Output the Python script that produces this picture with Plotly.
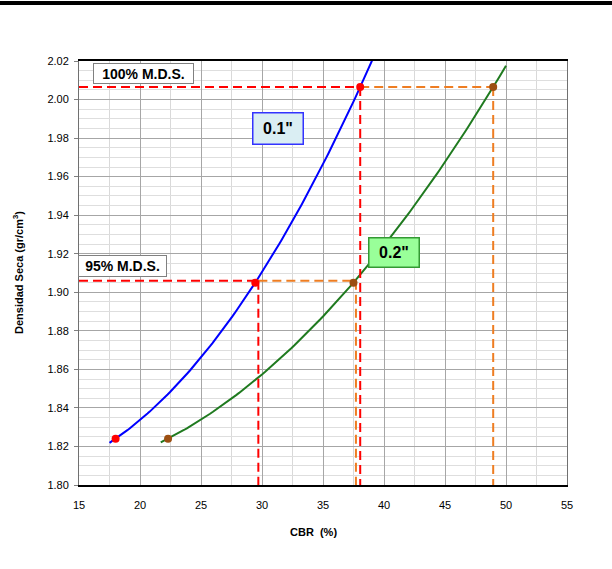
import numpy as np
import plotly.graph_objects as go

# Specimen points: CBR (%) vs dry density (g/cm3) for each penetration
cbr_01 = [18.0, 29.45, 38.05]
dens_01 = [1.824, 1.905, 2.0065]
cbr_02 = [22.3, 37.5, 48.95]
dens_02 = [1.824, 1.905, 2.0065]

# Maximum dry density levels
mds_100 = 2.0065
mds_95 = 1.906

# CBR read at each density level
cbr_100_01, cbr_100_02 = 38.05, 48.95
cbr_95_01, cbr_95_02 = 29.7, 37.7

# Trendline extents
span_01 = (17.5, 39.3)
span_02 = (21.7, 50.0)

x_ticks = [15, 20, 25, 30, 35, 40, 45, 50, 55]
y_ticks = [1.80, 1.82, 1.84, 1.86, 1.88, 1.90, 1.92, 1.94, 1.96, 1.98, 2.00, 2.02]

RED = "#FF0000"
ORANGE = "#EE7D22"
BLUE = "#0000FF"
GREEN = "#1F7A1F"
BROWN = "#9C4F12"
DASH = "9px,5px"
FONT = "Liberation Sans, Arial, sans-serif"

fig = go.Figure()

# second-order polynomial trendlines
for xs, ys, span, col in [(cbr_01, dens_01, span_01, BLUE), (cbr_02, dens_02, span_02, GREEN)]:
    coef = np.polyfit(xs, ys, 2)
    xx = np.linspace(span[0], span[1], 120)
    fig.add_trace(go.Scatter(x=xx, y=np.polyval(coef, xx), mode="lines",
                             line=dict(color=col, width=2), hoverinfo="skip"))

y_min = y_ticks[0]
x_min = x_ticks[0]

# guide lines at 100% M.D.S.
fig.add_trace(go.Scatter(x=[x_min, cbr_100_01], y=[mds_100, mds_100], mode="lines",
                         line=dict(color=RED, width=2, dash=DASH)))
fig.add_trace(go.Scatter(x=[cbr_100_01, cbr_100_02], y=[mds_100, mds_100], mode="lines",
                         line=dict(color=ORANGE, width=2, dash=DASH)))
fig.add_trace(go.Scatter(x=[cbr_100_01, cbr_100_01], y=[mds_100, y_min], mode="lines",
                         line=dict(color=RED, width=2, dash=DASH)))
fig.add_trace(go.Scatter(x=[cbr_100_02, cbr_100_02], y=[mds_100, y_min], mode="lines",
                         line=dict(color=ORANGE, width=2, dash=DASH)))

# guide lines at 95% M.D.S.
fig.add_trace(go.Scatter(x=[x_min, cbr_95_01], y=[mds_95, mds_95], mode="lines",
                         line=dict(color=RED, width=2, dash=DASH)))
fig.add_trace(go.Scatter(x=[cbr_95_01, cbr_95_02], y=[mds_95, mds_95], mode="lines",
                         line=dict(color=ORANGE, width=2, dash=DASH)))
fig.add_trace(go.Scatter(x=[cbr_95_01, cbr_95_01], y=[mds_95, y_min], mode="lines",
                         line=dict(color=RED, width=2, dash=DASH)))
fig.add_trace(go.Scatter(x=[cbr_95_02, cbr_95_02], y=[mds_95, y_min], mode="lines",
                         line=dict(color=ORANGE, width=2, dash=DASH)))

# specimen markers
fig.add_trace(go.Scatter(x=cbr_01, y=dens_01, mode="markers",
                         marker=dict(color=RED, size=8)))
fig.add_trace(go.Scatter(x=cbr_02, y=dens_02, mode="markers",
                         marker=dict(color=BROWN, size=8)))

L, R, T, B = 79, 45, 61, 84
W, H = 612, 569
ph = H - T - B

def py(px):
    return (H - B - px) / ph

def pxr(px):
    return (px - L) / (W - L - R)

ann = [
    dict(text="<b>100% M.D.S.</b>", x=pxr(143), y=py(73.5), width=97, height=17,
         font=dict(family=FONT, size=14, color="black"),
         bgcolor="white", bordercolor="#808080", borderwidth=1, borderpad=1),
    dict(text="<b>95% M.D.S.</b>", x=pxr(122.5), y=py(266), width=85, height=18,
         font=dict(family=FONT, size=14, color="black"),
         bgcolor="white", bordercolor="#808080", borderwidth=1, borderpad=1),
    dict(text="<b>0.1\"</b>", x=pxr(278), y=py(128.3), width=49, height=30,
         font=dict(family=FONT, size=16, color="black"),
         bgcolor="#DAEEF3", bordercolor="#3333FF", borderwidth=1.5, borderpad=0),
    dict(text="<b>0.2\"</b>", x=pxr(394), y=py(252.8), width=49, height=28,
         font=dict(family=FONT, size=16, color="black"),
         bgcolor="#99FF99", bordercolor="#339933", borderwidth=1.5, borderpad=0),
    dict(text="<b>CBR  (%)</b>", x=pxr(313), y=py(532),
         font=dict(family=FONT, size=11, color="black")),
    dict(text="<b>Densidad Seca (gr/cm<sup>3</sup>)</b>", x=pxr(18), y=py(273), textangle=-90,
         font=dict(family=FONT, size=11, color="black")),
]
for a in ann:
    a.update(xref="paper", yref="paper", showarrow=False, xanchor="center", yanchor="middle")

fig.update_layout(
    width=W, height=H,
    margin=dict(l=L, r=R, t=T, b=B, pad=0),
    paper_bgcolor="white", plot_bgcolor="white",
    showlegend=False,
    font=dict(family=FONT, size=11, color="black"),
    annotations=ann,
    shapes=[dict(type="line", xref="paper", yref="paper", x0=pxr(0), x1=pxr(W),
                 y0=py(3), y1=py(3), line=dict(color="black", width=4))],
)
fig.update_xaxes(range=[15, 55], tickvals=x_ticks, showgrid=True, gridcolor="#A6A6A6", gridwidth=1,
                 minor=dict(dtick=2.5, showgrid=True, gridcolor="#D9D9D9", gridwidth=1),
                 showline=True, linecolor="black", linewidth=2, mirror=True,
                 ticks="", ticklabelstandoff=9, zeroline=False,
                 tickfont=dict(size=11))
fig.update_yaxes(range=[1.80, 2.02], tickvals=y_ticks, tickformat=".2f", showgrid=True,
                 gridcolor="#A6A6A6", gridwidth=1,
                 minor=dict(dtick=0.005, showgrid=True, gridcolor="#DEDEDE", gridwidth=1),
                 showline=True, linecolor="#707070", linewidth=1, mirror=True,
                 ticks="outside", ticklen=4, tickcolor="#808080", ticklabelstandoff=3,
                 zeroline=False, tickfont=dict(size=11))

fig.write_html("out.html")
